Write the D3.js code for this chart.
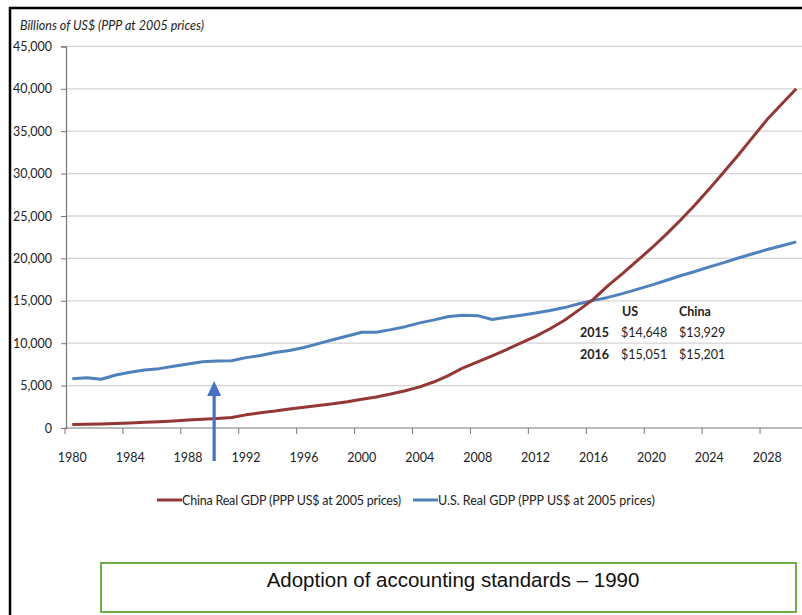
<!DOCTYPE html>
<html>
<head>
<meta charset="utf-8">
<script src="https://cdn.jsdelivr.net/npm/d3@7/dist/d3.min.js"></script>
<style>
  html, body { margin: 0; padding: 0; background: #fff; }
  svg { display: block; }
  text { font-family: Lato, "Open Sans", sans-serif; fill: #222; }
</style>
</head>
<body>
<svg id="chart" width="802" height="615"></svg>
<script>
// Calendar years on the category axis
const years = d3.range(1980, 2031);

// Real GDP, billions of US$ (PPP at 2005 prices)
const usGdp = [
  5800, 5930, 5750, 6250, 6570, 6840, 7000, 7270, 7550, 7820,
  7900, 7940, 8300, 8550, 8900, 9150, 9500, 9950, 10400, 10850,
  11300, 11300, 11600, 11950, 12400, 12750, 13150, 13300, 13250, 12800,
  13050, 13300, 13550, 13850, 14200, 14648, 15051, 15400, 15850, 16350,
  16850, 17400, 17950, 18450, 19000, 19500, 20050, 20550, 21050, 21500,
  21950
];
const chinaGdp = [
  400, 430, 470, 520, 600, 680, 740, 830, 940, 1040,
  1120, 1230, 1550, 1800, 2000, 2250, 2450, 2650, 2850, 3100,
  3400, 3650, 4000, 4400, 4850, 5450, 6200, 7100, 7800, 8500,
  9250, 10050, 10800, 11700, 12700, 13929, 15201, 16800, 18200, 19700,
  21200, 22800, 24500, 26300, 28200, 30200, 32200, 34300, 36400, 38200,
  40000
];

const yTicks = d3.range(0, 45001, 5000);
const xLabelYears = years.filter(y => (y - 1980) % 4 === 0 && y <= 2028);

const seriesNames = [
  "China Real GDP (PPP US$ at 2005 prices)",
  "U.S. Real GDP (PPP US$ at 2005 prices)"
];
const tableCols = ["US", "China"];
const tableRows = [
  { year: "2015", us: "$14,648", china: "$13,929" },
  { year: "2016", us: "$15,051", china: "$15,201" }
];

const red = "#943634";
const blue = "#4F81BD";

const svg = d3.select("#chart");

// outer frame
svg.append("path")
  .attr("d", "M10,640 L10,8 L830,8")
  .attr("fill", "none")
  .attr("stroke", "#000")
  .attr("stroke-width", 2.5);

const x = d3.scaleBand().domain(years).range([65, 65 + 51 * 14.48]).paddingInner(0).paddingOuter(0);
const y = d3.scaleLinear().domain([0, 45000]).range([428, 46.4]);
const cx = d => x(d) + x.bandwidth() / 2;

// axis title
svg.append("text")
  .attr("x", 20).attr("y", 30)
  .attr("font-size", 12.5)
  .attr("font-style", "italic")
  .text("Billions of US$ (PPP at 2005 prices)");

// horizontal gridlines
svg.append("g").selectAll("line")
  .data(yTicks.filter(t => t > 0))
  .join("line")
  .attr("x1", 66).attr("x2", 802)
  .attr("y1", d => y(d)).attr("y2", d => y(d))
  .attr("stroke", "#d4d4d4")
  .attr("stroke-width", 1.3);

// y axis
const yAxis = svg.append("g")
  .attr("transform", "translate(66,0)")
  .call(d3.axisLeft(y).tickValues(yTicks).tickSize(5).tickPadding(9).tickFormat(d3.format(",")));
yAxis.select(".domain").attr("stroke", "#777").attr("stroke-width", 1.2);
yAxis.selectAll(".tick line").attr("stroke", "#777");
yAxis.selectAll("text").attr("font-size", 12.5).attr("font-family", "Lato, sans-serif").attr("fill", "#222");

// x axis: ticks on category boundaries every 4 years
const xg = svg.append("g");
xg.append("line")
  .attr("x1", 65).attr("x2", 802)
  .attr("y1", 428).attr("y2", 428)
  .attr("stroke", "#777").attr("stroke-width", 1.2);
xg.selectAll("line.tick")
  .data(xLabelYears)
  .join("line")
  .attr("class", "tick")
  .attr("x1", d => x(d)).attr("x2", d => x(d))
  .attr("y1", 428).attr("y2", 434)
  .attr("stroke", "#777");
xg.selectAll("text")
  .data(xLabelYears)
  .join("text")
  .attr("x", d => cx(d)).attr("y", 462)
  .attr("text-anchor", "middle")
  .attr("font-size", 12.5)
  .text(d => d);

// series lines
const line = d3.line().x((d, i) => cx(years[i])).y(d => y(d));
svg.append("path").datum(usGdp)
  .attr("d", line).attr("fill", "none")
  .attr("stroke", blue).attr("stroke-width", 3).attr("stroke-linejoin", "round");
svg.append("path").datum(chinaGdp)
  .attr("d", line).attr("fill", "none")
  .attr("stroke", red).attr("stroke-width", 3).attr("stroke-linejoin", "round");

// 2015 / 2016 comparison table
const tbl = svg.append("g").attr("font-size", 12.5);
tbl.selectAll("text.hdr").data(tableCols).join("text")
  .attr("class", "hdr")
  .attr("x", (d, i) => [622, 679][i]).attr("y", 316)
  .attr("font-weight", "bold")
  .text(d => d);
tableRows.forEach((r, i) => {
  const yy = 337 + i * 21.5;
  tbl.append("text").attr("x", 580).attr("y", yy).attr("font-weight", "bold").text(r.year);
  tbl.append("text").attr("x", 621).attr("y", yy).text(r.us);
  tbl.append("text").attr("x", 679).attr("y", yy).text(r.china);
});

// arrow marking 1990
const ax = x(1990) + x.bandwidth() * 0.3;
svg.append("line")
  .attr("x1", ax).attr("x2", ax)
  .attr("y1", 461).attr("y2", 394)
  .attr("stroke", "#4472C4").attr("stroke-width", 3.2);
svg.append("path")
  .attr("d", `M${ax},381 L${ax - 7},396 L${ax + 7},396 Z`)
  .attr("fill", "#4472C4");

// legend
const legend = svg.append("g").attr("font-size", 12.5);
const legendX = [157, 413];
[red, blue].forEach((c, i) => {
  legend.append("line")
    .attr("x1", legendX[i]).attr("x2", legendX[i] + 25)
    .attr("y1", 500).attr("y2", 500)
    .attr("stroke", c).attr("stroke-width", 3);
  legend.append("text")
    .attr("x", legendX[i] + 25).attr("y", 504.5)
    .attr("textLength", i === 0 ? 219 : null)
    .text(seriesNames[i]);
});

// caption box
svg.append("rect")
  .attr("x", 101).attr("y", 563)
  .attr("width", 695).attr("height", 49)
  .attr("fill", "none")
  .attr("stroke", "#70AD47").attr("stroke-width", 2);
svg.append("text")
  .attr("x", 453).attr("y", 587)
  .attr("text-anchor", "middle")
  .attr("font-size", 20.5)
  .style("font-family", "'Liberation Sans', Arial, sans-serif")
  .style("fill", "#111")
  .text("Adoption of accounting standards – 1990");
</script>
</body>
</html>
